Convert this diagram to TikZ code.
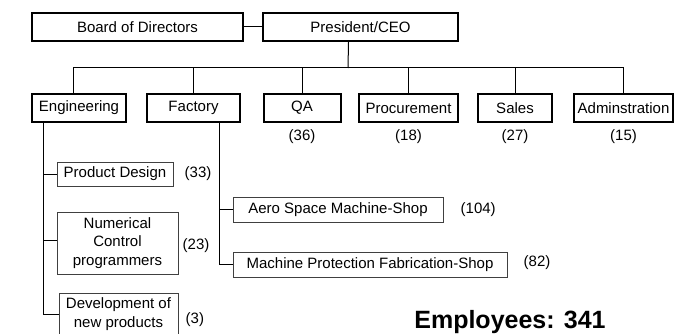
\documentclass[tikz,border=0pt]{standalone}
\usepackage{fontspec}
\setmainfont{Liberation Sans}
\usetikzlibrary{positioning}

\begin{document}
\begin{tikzpicture}[x=1pt,y=-1pt,font=\fontsize{15}{17}\selectfont,
    unit/.style={draw,line width=2pt,minimum height=28pt,inner sep=0pt,align=center},
    sub/.style={draw=black!75,line width=1pt,inner sep=0pt,align=center,
        font=\fontsize{15}{18.5}\selectfont},
    count/.style={inner sep=0pt},
    link/.style={line width=1pt}]
    \useasboundingbox (0,0) rectangle (687,334);
    %%%%% TOP LEVEL
    \node[unit,minimum width=211pt] (BOARD) at (137.5,27) {Board of Directors};
    \node[unit,minimum width=195pt] (CEO) at (360.5,27) {President/CEO};
    \draw[link] (BOARD) -- (CEO);
    %%%%% DEPARTMENTS
    \node[unit,minimum width=94pt] (ENG) at (79,108) {Engineering};
    \node[unit,minimum width=93pt] (FAC) at (193.5,108) {Factory};
    \node[unit,minimum width=77pt] (QA) at (302,108) {QA};
    \node[unit,minimum width=99pt] (PROC) at (408.5,108) {Procurement};
    \node[unit,minimum width=74pt] (SALES) at (515,108) {Sales};
    \node[unit,minimum width=99pt] (ADMIN) at (623.5,108) {Adminstration};
    % head counts below the boxes
    \node[count,below=6pt of QA] (QAN) {(36)};
    \node[count,below=6pt of PROC] (PROCN) {(18)};
    \node[count,below=6pt of SALES] (SALESN) {(27)};
    \node[count,below=6pt of ADMIN] (ADMINN) {(15)};
    %%%% LINKS FROM THE CEO TO THE DEPARTMENTS
    \coordinate (BUS) at (348,68);
    \draw[link] ([xshift=-12pt]CEO.south) -- (BUS);
    \draw[link] ([xshift=-6pt]ENG.north) |- (BUS);
    \foreach \dep in {FAC,QA,PROC,SALES,ADMIN}
      \draw[link] (\dep.north) |- (BUS);
    %%%%% ENGINEERING GROUPS
    \node[sub,minimum width=116pt,minimum height=24pt] (PD) at (115,174) {Product Design};
    \node[sub,minimum width=121pt,minimum height=62pt] (NC) at (117.5,243)
      {Numerical\\Control\\programmers};
    \node[sub,minimum width=119pt,minimum height=42pt] (DEV) at (118.5,314)
      {Development of\\new products};
    \node[count,right=11pt of PD] (PDN) {(33)};
    \node[count,right=4pt of NC,yshift=-3pt] (NCN) {(23)};
    \node[count,right=7pt of DEV,yshift=-6pt] (DEVN) {(3)};
    \coordinate (ENGDOWN) at ([xshift=-36pt]ENG.south);
    \draw[link] (ENGDOWN) |- (DEV.west);
    \draw[link] (ENGDOWN) |- (PD.west);
    \draw[link] (ENGDOWN) |- ([yshift=3pt]NC.west);
    %%%%% FACTORY SHOPS
    \node[sub,minimum width=210pt,minimum height=25pt] (ASM) at (338,209.5)
      {Aero Space Machine-Shop};
    \node[sub,minimum width=274pt,minimum height=25pt] (MPF) at (370,264.5)
      {Machine Protection Fabrication-Shop};
    \node[count,right=17pt of ASM] (ASMN) {(104)};
    \node[count,right=16pt of MPF,yshift=2pt] (MPFN) {(82)};
    \coordinate (FACDOWN) at ([xshift=25.5pt]FAC.south);
    \draw[link] (FACDOWN) |- (MPF.west);
    \draw[link] (FACDOWN) |- (ASM.west);
    %%%%% TOTAL
    \node[font=\bfseries\fontsize{25}{30}\selectfont] (TOTAL) at (510,322) {Employees: 341};
\end{tikzpicture}
\end{document}
